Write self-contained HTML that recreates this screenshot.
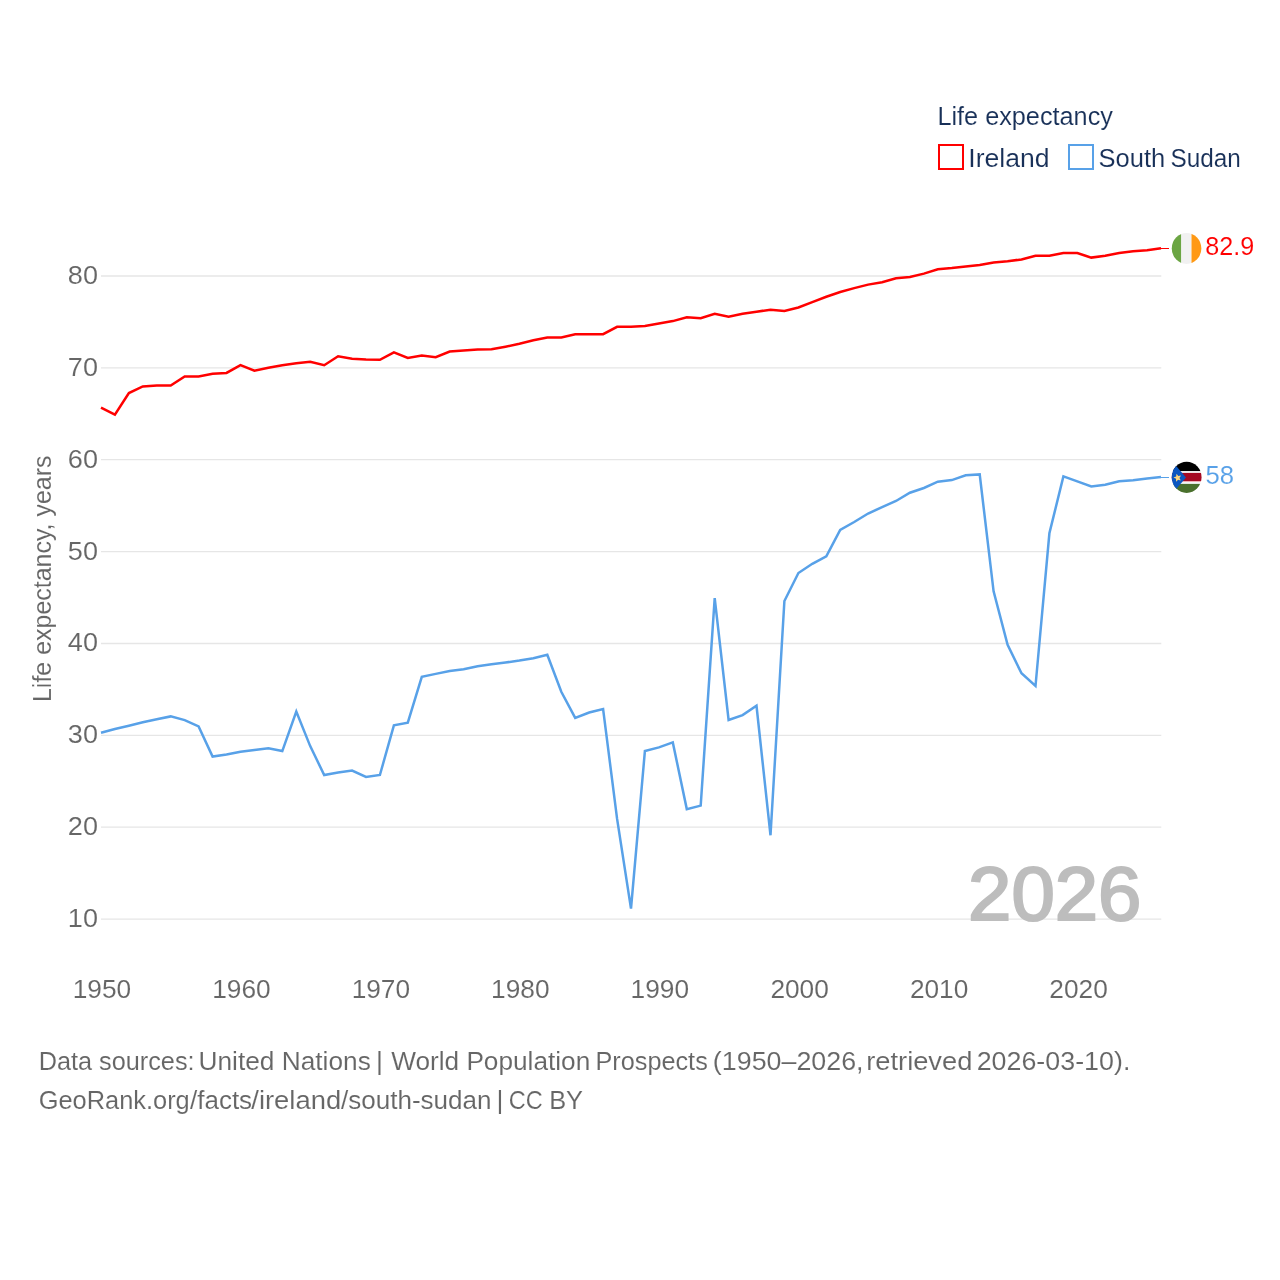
<!DOCTYPE html>
<html><head><meta charset="utf-8"><title>Life expectancy</title>
<style>
html,body{margin:0;padding:0;background:#fff;overflow:hidden;}
svg{display:block;will-change:transform;}
text{font-family:"Liberation Sans",sans-serif;}
.t{stroke:#fff;stroke-width:0.1px;}
</style></head><body>
<svg width="1280" height="1280" viewBox="0 0 1280 1280">
<rect width="1280" height="1280" fill="#fff"/>

<line x1="101.0" x2="1161.3" y1="919.1" y2="919.1" stroke="#e6e6e6" stroke-width="1.333"/>
<line x1="101.0" x2="1161.3" y1="827.2" y2="827.2" stroke="#e6e6e6" stroke-width="1.333"/>
<line x1="101.0" x2="1161.3" y1="735.3" y2="735.3" stroke="#e6e6e6" stroke-width="1.333"/>
<line x1="101.0" x2="1161.3" y1="643.5" y2="643.5" stroke="#e6e6e6" stroke-width="1.333"/>
<line x1="101.0" x2="1161.3" y1="551.6" y2="551.6" stroke="#e6e6e6" stroke-width="1.333"/>
<line x1="101.0" x2="1161.3" y1="459.7" y2="459.7" stroke="#e6e6e6" stroke-width="1.333"/>
<line x1="101.0" x2="1161.3" y1="367.9" y2="367.9" stroke="#e6e6e6" stroke-width="1.333"/>
<line x1="101.0" x2="1161.3" y1="276.0" y2="276.0" stroke="#e6e6e6" stroke-width="1.333"/>
<text class="t" transform="translate(67.85,927.0) scale(1.0150,1)" font-size="26.67" fill="#666666">10</text>
<text class="t" transform="translate(67.85,835.1) scale(1.0150,1)" font-size="26.67" fill="#666666">20</text>
<text class="t" transform="translate(67.85,743.2) scale(1.0150,1)" font-size="26.67" fill="#666666">30</text>
<text class="t" transform="translate(67.85,651.4) scale(1.0150,1)" font-size="26.67" fill="#666666">40</text>
<text class="t" transform="translate(67.85,559.5) scale(1.0150,1)" font-size="26.67" fill="#666666">50</text>
<text class="t" transform="translate(67.85,467.6) scale(1.0150,1)" font-size="26.67" fill="#666666">60</text>
<text class="t" transform="translate(67.85,375.8) scale(1.0150,1)" font-size="26.67" fill="#666666">70</text>
<text class="t" transform="translate(67.85,283.9) scale(1.0150,1)" font-size="26.67" fill="#666666">80</text>
<text class="t" transform="translate(72.70,998) scale(0.9850,1)" font-size="26.67" fill="#666666">1950</text>
<text class="t" transform="translate(212.17,998) scale(0.9850,1)" font-size="26.67" fill="#666666">1960</text>
<text class="t" transform="translate(351.64,998) scale(0.9850,1)" font-size="26.67" fill="#666666">1970</text>
<text class="t" transform="translate(491.12,998) scale(0.9850,1)" font-size="26.67" fill="#666666">1980</text>
<text class="t" transform="translate(630.59,998) scale(0.9850,1)" font-size="26.67" fill="#666666">1990</text>
<text class="t" transform="translate(770.40,998) scale(0.9850,1)" font-size="26.67" fill="#666666">2000</text>
<text class="t" transform="translate(909.88,998) scale(0.9850,1)" font-size="26.67" fill="#666666">2010</text>
<text class="t" transform="translate(1049.35,998) scale(0.9850,1)" font-size="26.67" fill="#666666">2020</text>
<text class="t" transform="translate(51.2,702.05) rotate(-90) scale(0.9361,1)" font-size="26.67" fill="#666666">Life expectancy, years</text>
<text transform="translate(968.12,919.7) scale(1.0184,1.0)" font-size="76.5" fill="#bdbdbd" stroke="#bdbdbd" stroke-width="2.2" stroke-linejoin="miter">2026</text>
<path d="M101.0,732.8L114.9,729.0L128.9,725.8L142.8,722.3L156.8,719.2L170.7,716.4L184.7,720.1L198.6,726.4L212.6,756.6L226.5,754.6L240.5,751.8L254.4,750.0L268.4,748.3L282.3,751.1L296.3,711.5L310.2,746.1L324.2,775.0L338.1,772.4L352.1,770.6L366.0,777.0L379.9,775.0L393.9,725.3L407.8,722.7L421.8,676.8L435.7,673.9L449.7,671.1L463.6,669.3L477.6,666.3L491.5,664.3L505.5,662.5L519.4,660.6L533.4,658.2L547.3,654.7L561.3,691.8L575.2,717.9L589.2,712.5L603.1,709.0L617.1,818.9L631.0,908.6L644.9,751.1L658.9,747.4L672.8,742.4L686.8,809.1L700.7,805.6L714.7,598.1L728.6,720.0L742.6,715.1L756.5,705.8L770.5,835.3L784.4,601.0L798.4,573.0L812.3,563.8L826.3,556.4L840.2,529.9L854.2,522.0L868.1,513.5L882.1,507.1L896.0,501.0L909.9,492.7L923.9,488.0L937.8,481.7L951.8,480.1L965.7,475.3L979.7,474.4L993.6,591.3L1007.6,644.9L1021.5,673.3L1035.5,686.0L1049.4,533.3L1063.4,476.4L1077.3,481.4L1091.3,486.5L1105.2,484.7L1119.2,481.2L1133.1,480.3L1147.1,478.4L1161.0,477.1" fill="none" stroke="#58a1e8" stroke-width="2.5" stroke-linejoin="miter" stroke-linecap="butt"/>
<path d="M101.0,407.7L114.9,414.7L128.9,393.0L142.8,386.4L156.8,385.6L170.7,385.6L184.7,376.4L198.6,376.4L212.6,373.8L226.5,372.9L240.5,365.2L254.4,370.7L268.4,367.8L282.3,365.2L296.3,363.3L310.2,361.7L324.2,365.2L338.1,356.3L352.1,358.7L366.0,359.6L379.9,359.8L393.9,352.3L407.8,358.0L421.8,355.6L435.7,357.2L449.7,351.5L463.6,350.4L477.6,349.5L491.5,349.3L505.5,346.7L519.4,343.8L533.4,340.3L547.3,337.5L561.3,337.5L575.2,334.2L589.2,334.2L603.1,334.2L617.1,326.8L631.0,326.7L644.9,325.9L658.9,323.5L672.8,321.1L686.8,317.2L700.7,318.3L714.7,313.7L728.6,316.7L742.6,313.7L756.5,311.7L770.5,309.7L784.4,311.0L798.4,307.5L812.3,302.1L826.3,296.8L840.2,292.0L854.2,288.1L868.1,284.6L882.1,282.2L896.0,278.3L909.9,276.9L923.9,273.6L937.8,269.2L951.8,268.1L965.7,266.6L979.7,265.1L993.6,262.4L1007.6,261.3L1021.5,259.4L1035.5,255.7L1049.4,255.7L1063.4,253.0L1077.3,253.0L1091.3,257.6L1105.2,255.7L1119.2,253.0L1133.1,251.3L1147.1,250.2L1161.0,248.2" fill="none" stroke="#ff0000" stroke-width="2.5" stroke-linejoin="miter" stroke-linecap="butt"/>
<line x1="1161" x2="1169" y1="248.5" y2="248.5" stroke="#ff0000" stroke-width="1"/>
<line x1="1161" x2="1169" y1="477.5" y2="477.5" stroke="#58a1e8" stroke-width="1"/>
<defs>
<clipPath id="c1"><ellipse cx="1186.55" cy="248.45" rx="14.8" ry="15.45"/></clipPath>
<clipPath id="c2"><ellipse cx="1186.65" cy="477.35" rx="14.9" ry="15.55"/></clipPath>
</defs>
<g clip-path="url(#c1)">
<rect x="1170" y="232" width="11.3" height="33" fill="#6ba543"/>
<rect x="1181.3" y="232" width="10.2" height="33" fill="#f1f1f1"/>
<rect x="1191.5" y="232" width="11.5" height="33" fill="#ff9914"/>
</g>
<g clip-path="url(#c2)">
<rect x="1170" y="460" width="33" height="11.2" fill="#000000"/>
<rect x="1170" y="471.2" width="33" height="1.7" fill="#f2f5f4"/>
<rect x="1170" y="472.9" width="33" height="8.4" fill="#a50a23"/>
<rect x="1170" y="481.3" width="33" height="2.6" fill="#f2f5f4"/>
<rect x="1170" y="481.2" width="33" height="0.7" fill="#ee9aa0"/>
<rect x="1170" y="483.9" width="33" height="10" fill="#4a702d"/>
<polygon points="1170,458.7 1186,477.5 1170,496.3" fill="#0b56c0"/>
<polygon points="1173.48,477.57 1176.15,476.57 1176.53,473.65 1178.27,475.98 1181.06,475.46 1179.47,477.90 1180.81,480.51 1178.08,479.68 1176.12,481.81 1176.03,478.86" fill="#fcd57d"/>
</g>
<text class="t" transform="translate(1205.19,255) scale(0.9433,1)" font-size="26.67" fill="#ff0000">82.9</text>
<text class="t" transform="translate(1205.58,484) scale(0.9622,1)" font-size="26.67" fill="#58a1e8">58</text>
<text class="t" transform="translate(937.43,124.7) scale(0.9468,1)" font-size="26.67" fill="#183058">Life expectancy</text>
<rect x="939" y="145" width="24" height="24" fill="none" stroke="#ff0000" stroke-width="2"/>
<text class="t" transform="translate(968.37,166.9) scale(0.9969,1)" font-size="26.67" fill="#183058">Ireland</text>
<rect x="1069" y="145" width="24" height="24" fill="none" stroke="#58a1e8" stroke-width="2"/>
<text class="t" transform="translate(1098.61,166.9) scale(0.9558,1)" font-size="26.67" fill="#183058">South</text>
<text class="t" transform="translate(1170.56,166.9) scale(0.9126,1)" font-size="26.67" fill="#183058">Sudan</text>
<text class="t" transform="translate(38.68,1069.5) scale(0.9481,1)" font-size="26.67" fill="#666666">Data sources:</text>
<text class="t" transform="translate(198.47,1069.5) scale(0.9855,1)" font-size="26.67" fill="#666666">United Nations</text>
<text class="t" transform="translate(391.13,1069.5) scale(0.9829,1)" font-size="26.67" fill="#666666">World Population</text>
<text class="t" transform="translate(595.43,1069.5) scale(0.9481,1)" font-size="26.67" fill="#666666">Prospects</text>
<text class="t" transform="translate(712.87,1069.5) scale(1.0060,1)" font-size="26.67" fill="#666666">(1950–2026,</text>
<text class="t" transform="translate(866.21,1069.5) scale(1.0237,1)" font-size="26.67" fill="#666666">retrieved</text>
<text class="t" transform="translate(976.68,1069.5) scale(1.0063,1)" font-size="26.67" fill="#666666">2026-03-10).</text>
<text class="t" transform="translate(376.03,1069.5) scale(1.0000,1)" font-size="26.67" fill="#666666">|</text>
<text class="t" transform="translate(38.75,1108.7) scale(0.9522,1)" font-size="26.67" fill="#666666">GeoRank.org</text>
<text class="t" transform="translate(190.00,1108.7) scale(0.9751,1)" font-size="26.67" fill="#666666">/facts</text>
<text class="t" transform="translate(251.30,1108.7) scale(1.0278,1)" font-size="26.67" fill="#666666">/ireland</text>
<text class="t" transform="translate(341.00,1108.7) scale(0.9766,1)" font-size="26.67" fill="#666666">/south-sudan</text>
<text class="t" transform="translate(508.78,1108.7) scale(0.8858,1)" font-size="26.67" fill="#666666">CC</text>
<text class="t" transform="translate(549.17,1108.7) scale(0.9524,1)" font-size="26.67" fill="#666666">BY</text>
<text class="t" transform="translate(496.53,1108.7) scale(1.0000,1)" font-size="26.67" fill="#666666">|</text>
</svg></body></html>
